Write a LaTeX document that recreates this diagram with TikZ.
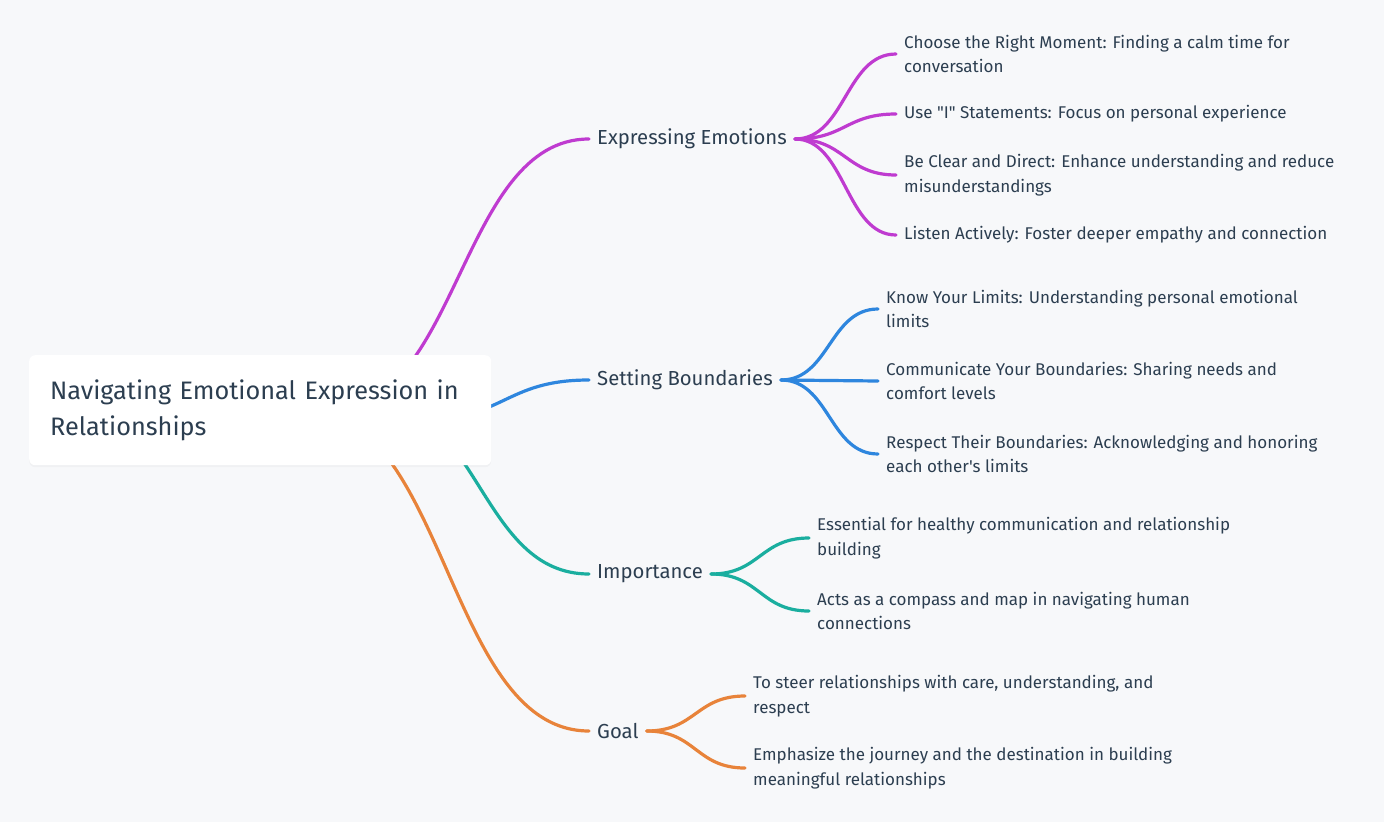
\documentclass[tikz,border=0pt]{standalone}
\usepackage{fontspec}
\setmainfont{Fira Sans}
\usetikzlibrary{calc,shadows}
\definecolor{bgc}{HTML}{F7F8FA}
\definecolor{ink}{HTML}{2C3E50}
\definecolor{cExpr}{HTML}{BF3BD0}
\definecolor{cBound}{HTML}{2E86DE}
\definecolor{cImp}{HTML}{1AAE9F}
\definecolor{cGoal}{HTML}{E8833A}
\def\link[#1](#2)(#3){\draw[#1] let \p1=(#2), \p2=(#3) in (\p1) .. controls ({0.5*(\x1+\x2)},\y1) and ({0.5*(\x1+\x2)},\y2) .. (\p2);}

\begin{document}
\begin{tikzpicture}[x=1pt,y=-1pt,
		rootbox/.style={fill=white, rounded corners=6pt, anchor=north west, align=left,
			text width=420pt, minimum width=462pt, minimum height=110pt, inner xsep=21pt,
			font=\fontsize{25.3}{36}\selectfont, text=ink,
			drop shadow={opacity=0.05, shadow xshift=0pt, shadow yshift=-2pt}},
		branch/.style={anchor=west, font=\fontsize{20.3}{24}\selectfont, text=ink, inner xsep=8pt, inner ysep=2pt},
		leaf/.style={anchor=west, align=left, font=\fontsize{17}{24.5}\selectfont, text=ink, inner xsep=8pt, inner ysep=2pt},
		wire/.style={line width=3.2pt, line cap=round}]
		%%%%% START %%%%%
		\useasboundingbox[fill=bgc] (0,0) rectangle (1384,822);
		
		% branches
		\node[branch] (expr) at (589,139) {Expressing Emotions};
		\node[branch] (bound) at (589,380) {Setting Boundaries};
		\node[branch] (imp) at (589,574) {Importance};
		\node[branch] (goal) at (589,731) {Goal};
		
		% leaves
		\node[leaf] (e1) at (896,54) {Choose the Right Moment: Finding a calm time for\\conversation};
		\node[leaf] (e2) at (896,114) {Use \textquotedbl I\textquotedbl{} Statements: Focus on personal experience};
		\node[leaf] (e3) at (896,175) {Be Clear and Direct: Enhance understanding and reduce\\misunderstandings};
		\node[leaf] (e4) at (896,235) {Listen Actively: Foster deeper empathy and connection};
		
		\node[leaf] (b1) at (878,309) {Know Your Limits: Understanding personal emotional\\limits};
		\node[leaf] (b2) at (878,381) {Communicate Your Boundaries: Sharing needs and\\comfort levels};
		\node[leaf] (b3) at (878,454) {Respect Their Boundaries: Acknowledging and honoring\\each other\textquotesingle s limits};
		
		\node[leaf] (i1) at (809,538) {Essential for healthy communication and relationship\\building};
		\node[leaf] (i2) at (809,611) {Acts as a compass and map in navigating human\\connections};
		
		\node[leaf] (g1) at (745,696) {To steer relationships with care, understanding, and\\respect};
		\node[leaf] (g2) at (745,768) {Emphasize the journey and the destination in building\\meaningful relationships};
		
		% links from the root (hidden behind the box)
		\coordinate (oExpr) at (330,410);
		\coordinate (oBound) at (420,420);
		\coordinate (oImp) at (370,400);
		\coordinate (oGoal) at (305,410);
		\link[wire,cExpr](oExpr)(expr.west);
		\link[wire,cBound](oBound)(bound.west);
		\link[wire,cImp](oImp)(imp.west);
		\link[wire,cGoal](oGoal)(goal.west);
		
		% links to the leaves
		\foreach \l in {e1,e2,e3,e4} {\link[wire,cExpr](expr.east)(\l.west);}
		\foreach \l in {b1,b2,b3} {\link[wire,cBound](bound.east)(\l.west);}
		\foreach \l in {i1,i2} {\link[wire,cImp](imp.east)(\l.west);}
		\foreach \l in {g1,g2} {\link[wire,cGoal](goal.east)(\l.west);}
		
		\node[rootbox] (root) at (29,355) {Navigating Emotional Expression in\\Relationships};
		%%%%% END %%%%%
\end{tikzpicture}
\end{document}
